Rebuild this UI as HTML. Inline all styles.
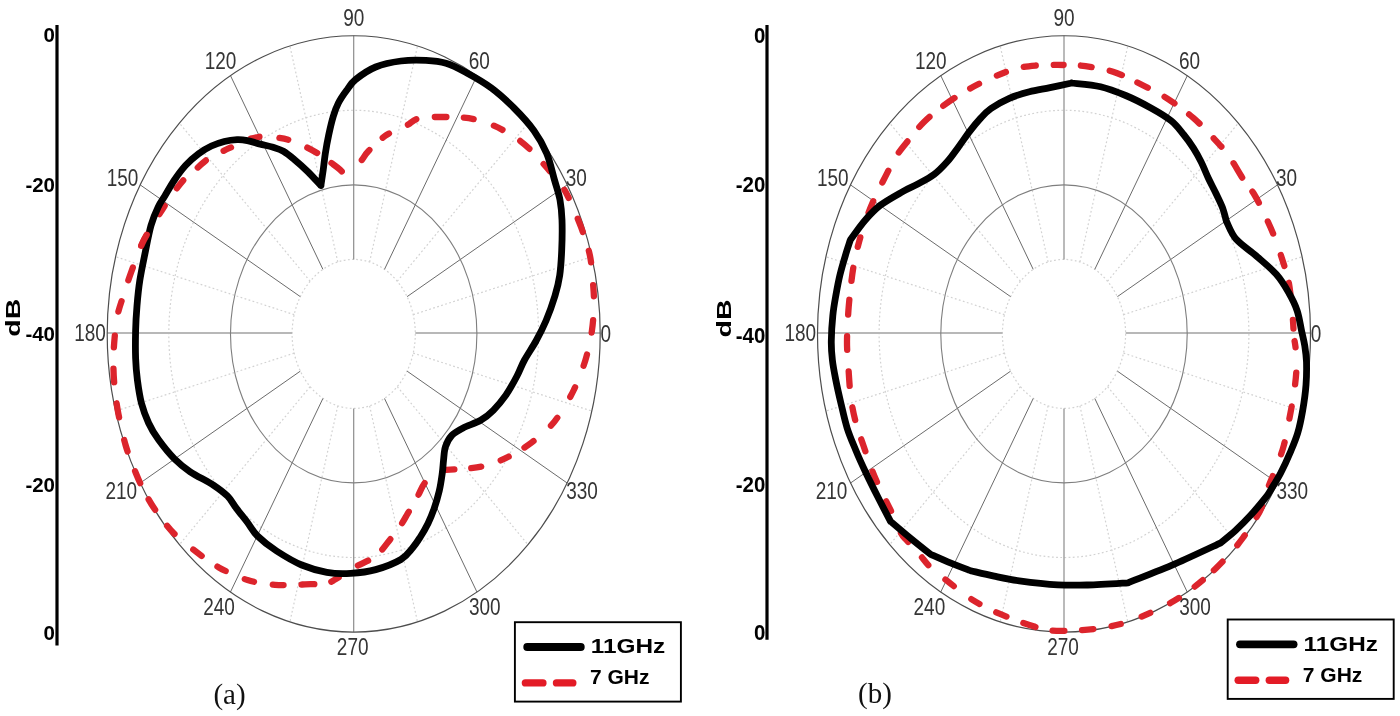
<!DOCTYPE html>
<html lang="en">
<head>
<meta charset="utf-8">
<title>Radiation patterns at 11 GHz and 7 GHz</title>
<style>
html,body{margin:0;padding:0;background:#fff;}
body{width:1400px;height:716px;overflow:hidden;}
svg{display:block;}
text{font-family:"Liberation Sans",sans-serif;}
.grid *{fill:none;vector-effect:non-scaling-stroke;}
.dot{stroke:#d2d2d2;stroke-width:1.2;stroke-dasharray:1.8 2.4;}
.spoke{stroke:#6b6b6b;stroke-width:1;}
.axis{stroke:#b8b8b8;stroke-width:1.9;}
.vaxis{stroke:#8c8c8c;stroke-width:1.2;}
.mid{stroke:#7e7e7e;stroke-width:1.1;}
.rim{stroke:#4d4d4d;stroke-width:1.2;}
.lab text{font-size:19px;fill:#353535;text-anchor:middle;}
.blk{fill:none;stroke:#000;stroke-width:6.8;stroke-linejoin:miter;stroke-linecap:round;}
.red{fill:none;stroke:#dc242c;stroke-width:6.3;stroke-linecap:round;}
.tick{font-size:20.5px;font-weight:bold;fill:#000;text-anchor:end;}
.leg{font-size:21px;font-weight:bold;fill:#000;}
.cap{font-family:"Liberation Serif",serif;font-size:29px;fill:#111;text-anchor:middle;}
.db{font-size:21px;font-weight:bold;fill:#000;}
</style>
</head>
<body>
<svg width="1400" height="716" viewBox="0 0 1400 716">
<rect width="1400" height="716" fill="#fff"/>
<g transform="translate(353.7 333.9) scale(1 1.2095)">
<g class="grid">
<circle r="61.6" class="dot"/>
<circle r="184.9" class="dot"/>
<line x1="59.5" y1="-15.9" x2="238.1" y2="-63.8" class="dot"/>
<line x1="43.6" y1="-43.6" x2="174.3" y2="-174.3" class="dot"/>
<line x1="15.9" y1="-59.5" x2="63.8" y2="-238.1" class="dot"/>
<line x1="-15.9" y1="-59.5" x2="-63.8" y2="-238.1" class="dot"/>
<line x1="-43.6" y1="-43.6" x2="-174.3" y2="-174.3" class="dot"/>
<line x1="-59.5" y1="-15.9" x2="-238.1" y2="-63.8" class="dot"/>
<line x1="-59.5" y1="15.9" x2="-238.1" y2="63.8" class="dot"/>
<line x1="-43.6" y1="43.6" x2="-174.3" y2="174.3" class="dot"/>
<line x1="-15.9" y1="59.5" x2="-63.8" y2="238.1" class="dot"/>
<line x1="15.9" y1="59.5" x2="63.8" y2="238.1" class="dot"/>
<line x1="43.6" y1="43.6" x2="174.3" y2="174.3" class="dot"/>
<line x1="59.5" y1="15.9" x2="238.1" y2="63.8" class="dot"/>
<line x1="61.6" y1="-0.8" x2="246.5" y2="-0.8" class="axis"/>
<line x1="53.4" y1="-30.8" x2="213.5" y2="-123.2" class="spoke"/>
<line x1="30.8" y1="-53.4" x2="123.3" y2="-213.5" class="spoke"/>
<line x1="0.0" y1="-61.6" x2="0.0" y2="-246.5" class="vaxis"/>
<line x1="-30.8" y1="-53.4" x2="-123.2" y2="-213.5" class="spoke"/>
<line x1="-53.4" y1="-30.8" x2="-213.5" y2="-123.2" class="spoke"/>
<line x1="-61.6" y1="-0.8" x2="-246.5" y2="-0.8" class="axis"/>
<line x1="-53.4" y1="30.8" x2="-213.5" y2="123.3" class="spoke"/>
<line x1="-30.8" y1="53.4" x2="-123.3" y2="213.5" class="spoke"/>
<line x1="-0.0" y1="61.6" x2="-0.0" y2="246.5" class="vaxis"/>
<line x1="30.8" y1="53.4" x2="123.3" y2="213.5" class="spoke"/>
<line x1="53.4" y1="30.8" x2="213.5" y2="123.3" class="spoke"/>
<circle r="123.2" class="mid"/>
<circle r="246.5" class="rim"/>
</g>
</g>
<g class="lab">
<text transform="translate(353.7 26.0) scale(1 1.29)">90</text>
<text transform="translate(479.2 68.8) scale(1 1.29)">60</text>
<text transform="translate(576.3 186.3) scale(1 1.29)">30</text>
<text transform="translate(605.8 341.8) scale(1 1.29)">0</text>
<text transform="translate(582.0 499.1) scale(1 1.29)">330</text>
<text transform="translate(484.8 614.8) scale(1 1.29)">300</text>
<text transform="translate(352.7 655.1) scale(1 1.29)">270</text>
<text transform="translate(219.1 615.2) scale(1 1.29)">240</text>
<text transform="translate(121.3 499.2) scale(1 1.29)">210</text>
<text transform="translate(90.0 341.4) scale(1 1.29)">180</text>
<text transform="translate(122.5 186.3) scale(1 1.29)">150</text>
<text transform="translate(220.5 68.8) scale(1 1.29)">120</text>
</g>
<path class="red" stroke-dasharray="12.8 17.9 7.8 20.7 10.3 18.7 11.7 17.1 10.0 21.3 9.6 20.7 12.3 20.7 9.7 23.6 9.3 22.6 14.3 19.5 12.0 22.6 11.3 23.9 12.6 22.2 12.0 23.1 10.8 24.5 10.1 23.2 11.2 18.2 8.8 20.4 10.3 16.8 8.1 9999" stroke-dashoffset="-22.7" d="M346.0 176.5C348.4 174.0 356.9 165.8 360.6 161.5C364.4 157.2 364.3 155.3 368.5 151.0C372.7 146.7 379.6 139.6 385.8 135.4C392.0 131.2 400.4 128.7 405.9 125.9C411.3 123.1 412.6 120.0 418.5 118.5C424.4 117.0 432.6 117.0 441.0 117.0C449.4 117.0 460.0 116.8 468.8 118.2C477.6 119.7 485.9 122.3 493.9 125.7C501.8 129.1 510.2 134.1 516.5 138.3C522.8 142.5 527.0 146.5 531.6 150.9C536.2 155.3 540.6 160.7 544.2 164.7C547.8 168.7 549.8 171.0 553.0 175.0C556.2 179.0 560.6 183.5 563.7 188.5C566.8 193.5 568.9 198.4 571.8 205.0C574.7 211.6 578.3 219.4 581.3 227.8C584.3 236.2 587.9 245.8 589.9 255.4C591.9 265.0 592.5 277.2 593.2 285.6C593.9 294.0 594.1 298.1 593.9 305.7C593.7 313.2 593.1 322.5 591.9 330.9C590.7 339.3 588.4 349.1 586.6 356.0C584.8 362.9 583.4 366.3 581.3 372.0C579.2 377.7 576.7 384.0 573.8 390.0C570.9 396.0 567.5 401.9 563.7 407.8C559.9 413.7 556.7 419.5 551.2 425.4C545.8 431.3 538.1 437.8 531.0 443.0C523.9 448.2 515.9 453.0 508.4 456.8C500.9 460.6 492.9 463.6 485.8 465.6C478.7 467.6 472.8 467.9 465.7 468.6C458.6 469.3 447.2 469.7 443.5 469.9"/>
<path class="red" stroke-dasharray="13.2 19.4 13.6 19.8 13.0 18.2 11.3 22.5 8.5 17.6 12.7 17.9 10.7 19.3 9.5 20.6 9.4 18.9 10.7 24.4 11.2 19.7 12.4 18.2 13.3 21.0 12.1 22.7 14.4 21.2 13.9 21.2 11.7 24.2 11.3 21.8 13.6 23.2 12.3 24.0 9.8 21.6 10.0 19.5 10.8 20.2 8.1 21.8 8.7 20.2 9.0 20.6 11.1 17.6 13.3 9999" stroke-dashoffset="-23.1" d="M443.5 469.9C440.6 471.8 430.7 476.7 426.4 481.0C422.1 485.3 421.0 490.4 417.9 495.8C414.8 501.2 410.7 508.4 407.8 513.4C404.9 518.4 403.2 521.7 400.3 526.0C397.4 530.3 394.6 534.0 390.5 539.0C386.4 544.0 381.8 551.2 376.0 555.8C370.2 560.4 362.4 562.8 355.6 566.8C348.8 570.8 339.9 576.8 335.0 579.6C330.1 582.4 330.1 582.6 326.0 583.4C321.9 584.2 319.0 584.0 310.5 584.2C302.0 584.4 285.5 585.5 275.0 584.8C264.5 584.1 256.9 582.9 247.5 580.0C238.1 577.1 227.8 572.4 218.8 567.4C209.8 562.4 201.2 555.5 193.6 549.8C186.0 544.1 179.8 539.5 173.5 533.0C167.2 526.5 160.7 517.7 155.9 510.9C151.1 504.1 147.9 498.3 144.6 492.0C141.2 485.7 139.0 480.8 135.8 473.0C132.7 465.2 128.6 455.5 125.7 445.5C122.8 435.5 120.1 422.9 118.2 412.8C116.3 402.7 115.2 393.5 114.4 385.0C113.6 376.5 113.4 369.8 113.4 362.0C113.4 354.2 113.9 345.8 114.6 338.0C115.3 330.2 116.1 322.1 117.6 315.0C119.1 307.9 121.1 302.8 123.4 295.5C125.7 288.2 128.3 280.1 131.4 271.5C134.5 262.9 138.7 251.4 142.0 244.0C145.3 236.6 148.0 232.9 151.5 227.0C155.0 221.1 159.5 214.0 163.0 208.5C166.5 203.0 168.9 199.0 172.6 194.0C176.2 189.0 180.8 182.9 184.9 178.6C189.0 174.2 193.3 171.3 197.3 167.9C201.3 164.5 204.6 161.0 208.9 158.2C213.2 155.4 218.5 153.3 223.0 151.1C227.5 148.9 231.6 147.2 235.9 145.2C240.2 143.2 244.5 140.7 249.0 139.2C253.5 137.7 258.4 136.7 262.9 136.4C267.3 136.1 271.2 136.8 275.7 137.4C280.2 138.0 285.0 138.7 289.9 140.2C294.8 141.7 300.4 144.2 305.3 146.6C310.2 149.0 315.1 151.7 319.4 154.4C323.7 157.1 327.6 160.2 331.0 162.7C334.4 165.2 337.5 167.3 340.0 169.6C342.5 171.9 345.0 175.3 346.0 176.5"/>
<path class="blk" d="M320.9 185.5C321.3 182.9 322.4 175.4 323.2 170.0C323.9 164.6 324.5 158.9 325.4 153.0C326.3 147.1 327.5 140.6 328.8 134.5C330.1 128.4 331.7 121.5 333.3 116.2C334.9 111.0 336.2 107.3 338.4 103.0C340.6 98.7 343.6 94.4 346.5 90.5C349.4 86.6 350.7 83.4 355.6 79.5C360.5 75.6 368.1 70.1 375.7 67.0C383.3 63.9 392.6 62.1 401.0 61.0C409.4 59.9 418.5 60.0 426.0 60.4C433.5 60.8 439.3 61.3 446.0 63.3C452.7 65.3 458.4 68.4 466.0 72.5C473.6 76.6 483.4 82.1 491.4 88.0C499.4 93.9 506.9 100.9 514.0 108.0C521.1 115.1 528.5 123.1 534.0 130.7C539.5 138.3 543.3 145.2 546.7 153.4C550.1 161.6 552.3 172.2 554.5 180.0C556.7 187.8 558.8 193.3 560.0 200.0C561.2 206.7 561.7 211.6 562.0 220.0C562.3 228.4 562.1 241.2 561.7 250.4C561.3 259.6 560.8 267.9 559.7 275.5C558.6 283.1 557.3 288.1 555.0 295.7C552.7 303.2 549.2 313.2 546.0 320.8C542.8 328.4 539.6 334.5 536.0 341.0C532.4 347.5 527.7 354.2 524.5 360.0C521.3 365.8 520.1 370.1 517.0 376.0C513.9 381.9 509.8 389.5 505.9 395.2C501.9 400.9 497.5 406.1 493.3 410.3C489.1 414.5 485.7 417.4 480.7 420.3C475.7 423.2 467.9 425.4 463.1 427.9C458.3 430.4 454.7 432.3 451.8 435.4C448.9 438.5 446.9 442.5 445.5 446.7C444.1 450.9 444.0 456.2 443.5 460.6C443.0 465.0 443.0 468.0 442.3 473.0C441.6 478.0 440.7 484.9 439.3 490.8C437.9 496.7 436.1 503.0 434.2 508.4C432.3 513.8 430.4 518.5 428.0 523.4C425.6 528.2 422.6 533.4 420.0 537.5C417.4 541.6 415.7 544.3 412.5 548.0C409.3 551.7 407.0 555.9 400.9 559.5C394.8 563.1 384.1 567.3 375.7 569.6C367.3 571.9 358.7 572.8 350.6 573.3C342.5 573.8 335.0 573.7 326.9 572.3C318.8 570.9 310.1 568.5 301.7 565.0C293.3 561.5 284.0 555.8 276.6 551.0C269.2 546.2 262.4 540.8 257.5 536.0C252.7 531.2 251.0 527.1 247.5 522.5C244.0 517.9 239.7 512.8 236.4 508.4C233.1 504.0 231.4 500.0 227.6 496.2C223.8 492.4 219.9 489.4 213.7 485.3C207.5 481.2 196.8 476.2 190.2 471.8C183.6 467.4 179.5 463.9 174.2 458.6C168.9 453.3 162.9 445.7 158.6 439.8C154.3 433.9 151.4 429.1 148.6 423.0C145.8 416.9 143.4 410.6 141.5 403.4C139.6 396.2 138.4 387.6 137.4 380.0C136.4 372.4 135.9 366.2 135.6 358.0C135.3 349.8 135.4 339.6 135.6 330.9C135.8 322.2 136.3 314.1 137.0 305.7C137.7 297.3 138.5 289.0 139.8 280.6C141.1 272.2 142.7 264.6 144.6 255.4C146.5 246.2 148.7 233.6 151.0 225.5C153.3 217.4 155.9 211.8 158.2 207.0C160.4 202.2 161.8 200.9 164.5 196.5C167.2 192.1 170.6 185.7 174.1 180.5C177.6 175.3 181.6 169.8 185.7 165.3C189.8 160.8 194.3 156.9 198.6 153.7C202.9 150.5 207.1 148.0 211.4 146.0C215.7 144.0 220.0 142.6 224.3 141.5C228.6 140.4 233.2 139.8 237.1 139.6C240.9 139.4 243.5 139.8 247.4 140.6C251.3 141.3 256.0 143.0 260.3 144.1C264.6 145.2 269.2 146.1 273.1 147.3C277.0 148.5 279.8 149.2 283.4 151.3C287.0 153.4 290.9 156.7 295.0 160.1C299.1 163.5 303.6 167.5 307.9 171.7C312.2 175.9 318.7 183.2 320.9 185.5"/>
<path class="red" stroke-dasharray="12.3 9999" stroke-dashoffset="-641.3" d="M443.5 469.9C440.6 471.8 430.7 476.7 426.4 481.0C422.1 485.3 421.0 490.4 417.9 495.8C414.8 501.2 410.7 508.4 407.8 513.4C404.9 518.4 403.2 521.7 400.3 526.0C397.4 530.3 394.6 534.0 390.5 539.0C386.4 544.0 381.8 551.2 376.0 555.8C370.2 560.4 362.4 562.8 355.6 566.8C348.8 570.8 339.9 576.8 335.0 579.6C330.1 582.4 330.1 582.6 326.0 583.4C321.9 584.2 319.0 584.0 310.5 584.2C302.0 584.4 285.5 585.5 275.0 584.8C264.5 584.1 256.9 582.9 247.5 580.0C238.1 577.1 227.8 572.4 218.8 567.4C209.8 562.4 201.2 555.5 193.6 549.8C186.0 544.1 179.8 539.5 173.5 533.0C167.2 526.5 160.7 517.7 155.9 510.9C151.1 504.1 147.9 498.3 144.6 492.0C141.2 485.7 139.0 480.8 135.8 473.0C132.7 465.2 128.6 455.5 125.7 445.5C122.8 435.5 120.1 422.9 118.2 412.8C116.3 402.7 115.2 393.5 114.4 385.0C113.6 376.5 113.4 369.8 113.4 362.0C113.4 354.2 113.9 345.8 114.6 338.0C115.3 330.2 116.1 322.1 117.6 315.0C119.1 307.9 121.1 302.8 123.4 295.5C125.7 288.2 128.3 280.1 131.4 271.5C134.5 262.9 138.7 251.4 142.0 244.0C145.3 236.6 148.0 232.9 151.5 227.0C155.0 221.1 159.5 214.0 163.0 208.5C166.5 203.0 168.9 199.0 172.6 194.0C176.2 189.0 180.8 182.9 184.9 178.6C189.0 174.2 193.3 171.3 197.3 167.9C201.3 164.5 204.6 161.0 208.9 158.2C213.2 155.4 218.5 153.3 223.0 151.1C227.5 148.9 231.6 147.2 235.9 145.2C240.2 143.2 244.5 140.7 249.0 139.2C253.5 137.7 258.4 136.7 262.9 136.4C267.3 136.1 271.2 136.8 275.7 137.4C280.2 138.0 285.0 138.7 289.9 140.2C294.8 141.7 300.4 144.2 305.3 146.6C310.2 149.0 315.1 151.7 319.4 154.4C323.7 157.1 327.6 160.2 331.0 162.7C334.4 165.2 337.5 167.3 340.0 169.6C342.5 171.9 345.0 175.3 346.0 176.5"/>
<g transform="translate(1064.0 333.9) scale(1 1.2095)">
<g class="grid">
<circle r="61.6" class="dot"/>
<circle r="184.9" class="dot"/>
<line x1="59.5" y1="-15.9" x2="238.1" y2="-63.8" class="dot"/>
<line x1="43.6" y1="-43.6" x2="174.3" y2="-174.3" class="dot"/>
<line x1="15.9" y1="-59.5" x2="63.8" y2="-238.1" class="dot"/>
<line x1="-15.9" y1="-59.5" x2="-63.8" y2="-238.1" class="dot"/>
<line x1="-43.6" y1="-43.6" x2="-174.3" y2="-174.3" class="dot"/>
<line x1="-59.5" y1="-15.9" x2="-238.1" y2="-63.8" class="dot"/>
<line x1="-59.5" y1="15.9" x2="-238.1" y2="63.8" class="dot"/>
<line x1="-43.6" y1="43.6" x2="-174.3" y2="174.3" class="dot"/>
<line x1="-15.9" y1="59.5" x2="-63.8" y2="238.1" class="dot"/>
<line x1="15.9" y1="59.5" x2="63.8" y2="238.1" class="dot"/>
<line x1="43.6" y1="43.6" x2="174.3" y2="174.3" class="dot"/>
<line x1="59.5" y1="15.9" x2="238.1" y2="63.8" class="dot"/>
<line x1="61.6" y1="-0.8" x2="246.5" y2="-0.8" class="axis"/>
<line x1="53.4" y1="-30.8" x2="213.5" y2="-123.2" class="spoke"/>
<line x1="30.8" y1="-53.4" x2="123.3" y2="-213.5" class="spoke"/>
<line x1="0.0" y1="-61.6" x2="0.0" y2="-246.5" class="vaxis"/>
<line x1="-30.8" y1="-53.4" x2="-123.2" y2="-213.5" class="spoke"/>
<line x1="-53.4" y1="-30.8" x2="-213.5" y2="-123.2" class="spoke"/>
<line x1="-61.6" y1="-0.8" x2="-246.5" y2="-0.8" class="axis"/>
<line x1="-53.4" y1="30.8" x2="-213.5" y2="123.3" class="spoke"/>
<line x1="-30.8" y1="53.4" x2="-123.3" y2="213.5" class="spoke"/>
<line x1="-0.0" y1="61.6" x2="-0.0" y2="246.5" class="vaxis"/>
<line x1="30.8" y1="53.4" x2="123.3" y2="213.5" class="spoke"/>
<line x1="53.4" y1="30.8" x2="213.5" y2="123.3" class="spoke"/>
<circle r="123.2" class="mid"/>
<circle r="246.5" class="rim"/>
</g>
</g>
<g class="lab">
<text transform="translate(1064.0 26.0) scale(1 1.29)">90</text>
<text transform="translate(1189.5 68.8) scale(1 1.29)">60</text>
<text transform="translate(1286.6 186.3) scale(1 1.29)">30</text>
<text transform="translate(1316.1 341.8) scale(1 1.29)">0</text>
<text transform="translate(1292.3 499.1) scale(1 1.29)">330</text>
<text transform="translate(1195.1 614.8) scale(1 1.29)">300</text>
<text transform="translate(1063.0 655.1) scale(1 1.29)">270</text>
<text transform="translate(929.4 615.2) scale(1 1.29)">240</text>
<text transform="translate(831.6 499.2) scale(1 1.29)">210</text>
<text transform="translate(800.3 341.4) scale(1 1.29)">180</text>
<text transform="translate(832.8 186.3) scale(1 1.29)">150</text>
<text transform="translate(930.8 68.8) scale(1 1.29)">120</text>
</g>
<path class="red" stroke-dasharray="10.9 18.3 13.1 17.1 11.7 19.0 11.9 18.2 14.0 20.4 11.4 20.6 16.6 17.5 12.9 20.8 13.2 22.5 11.5 17.7 11.1 26.0 8.8 12.4 6.8 25.2 11.8 22.5 12.2 23.9 12.6 23.3 10.2 21.9 12.2 21.8 12.3 22.2 12.0 14.9 10.3 19.6 10.3 22.1 9.4 22.1 9.4 18.5 11.3 17.7 11.7 17.7 12.7 18.1 11.1 18.7 9.5 21.7 10.7 22.3 10.1 20.4 12.1 23.9 10.6 21.7 11.5 21.1 12.7 20.4 13.2 21.4 14.4 21.7 13.7 21.6 14.9 19.0 13.3 21.2 9.9 26.2 12.2 21.1 13.1 20.7 14.4 18.6 14.4 17.6 13.7 18.4 10.0 19.6 9.6 18.5 12.3 17.7 10.0 9999" stroke-dashoffset="-8.9" d="M1072.0 65.3C1074.2 65.4 1078.7 65.0 1085.5 66.1C1092.3 67.2 1103.8 68.7 1113.0 71.7C1122.2 74.7 1131.5 79.6 1140.8 84.2C1150.0 88.8 1159.7 93.6 1168.5 99.3C1177.3 105.0 1186.1 111.7 1193.6 118.2C1201.1 124.7 1207.8 132.0 1213.7 138.3C1219.6 144.6 1223.8 149.1 1228.8 156.0C1233.8 162.9 1239.3 173.3 1243.5 179.6C1247.7 185.8 1250.3 188.0 1253.7 193.5C1257.1 199.0 1260.4 205.7 1263.7 212.7C1267.0 219.7 1270.7 227.3 1273.8 235.3C1276.9 243.3 1280.1 252.6 1282.6 260.5C1285.1 268.4 1287.2 273.8 1288.9 283.0C1290.6 292.2 1291.8 307.0 1292.6 315.8C1293.4 324.6 1293.4 330.0 1293.9 335.9C1294.5 341.8 1295.5 345.3 1295.9 351.0C1296.3 356.7 1296.7 363.1 1296.4 370.0C1296.1 376.9 1295.1 385.1 1294.0 392.7C1292.9 400.2 1291.7 406.5 1290.0 415.3C1288.3 424.1 1286.3 436.3 1283.8 445.5C1281.3 454.7 1277.5 463.9 1275.0 470.6C1272.5 477.3 1271.1 479.4 1268.8 485.7C1266.5 492.0 1263.9 502.1 1261.2 508.4C1258.5 514.7 1255.5 518.5 1252.4 523.4C1249.3 528.3 1246.4 533.1 1242.8 538.0C1239.2 542.9 1235.5 547.6 1231.0 552.6C1226.5 557.6 1221.0 563.4 1216.0 568.2C1211.0 573.0 1205.9 577.4 1200.9 581.6C1195.9 585.8 1190.8 589.8 1185.8 593.3C1180.8 596.8 1176.6 599.6 1170.7 602.8C1164.8 606.0 1158.1 609.4 1150.6 612.7C1143.0 616.0 1133.8 620.1 1125.4 622.7C1117.0 625.3 1108.4 626.9 1100.0 628.2C1091.6 629.5 1083.3 630.1 1075.0 630.5C1066.7 630.9 1057.6 631.3 1050.0 630.4C1042.4 629.5 1036.2 627.1 1029.4 625.0C1022.6 622.9 1016.0 620.4 1009.3 617.7C1002.6 615.0 995.9 612.4 989.2 609.0C982.5 605.6 975.6 602.0 969.0 597.6C962.4 593.2 955.8 587.6 949.5 582.7C943.2 577.8 936.4 573.1 931.3 568.2C926.2 563.4 922.9 558.2 918.8 553.6C914.7 549.0 909.8 543.9 906.9 540.5C904.0 537.1 903.9 538.4 901.2 533.5C898.6 528.6 894.4 518.0 891.0 510.9C887.6 503.8 884.1 497.4 881.0 490.7C877.9 484.0 875.1 478.1 872.2 470.6C869.3 463.1 866.1 453.4 863.4 445.5C860.7 437.6 858.0 430.9 855.9 422.9C853.8 414.9 852.1 406.9 850.9 397.7C849.6 388.5 849.0 375.8 848.4 367.5C847.8 359.2 847.3 353.3 847.1 348.0C846.9 342.7 846.9 342.1 847.1 335.9C847.3 329.7 847.8 319.2 848.4 310.8C849.0 302.4 849.9 294.0 850.9 285.6C851.9 277.2 852.9 268.9 854.6 260.5C856.3 252.1 858.6 243.3 860.9 235.3C863.2 227.3 866.0 219.4 868.5 212.7C871.0 206.0 873.5 200.4 876.0 195.0C878.5 189.6 880.2 186.5 883.6 180.0C887.0 173.5 892.0 163.0 896.3 156.2C900.6 149.4 904.6 145.0 909.2 139.3C913.8 133.6 918.4 127.5 924.0 122.0C929.6 116.5 935.9 111.2 943.0 106.0C950.1 100.8 958.4 95.2 966.5 90.5C974.6 85.8 983.3 81.5 991.7 77.8C1000.1 74.1 1009.2 70.6 1016.8 68.5C1024.3 66.4 1030.2 66.0 1037.0 65.4C1043.8 64.8 1052.0 64.9 1057.8 64.9C1063.6 64.9 1069.6 65.2 1072.0 65.3"/>
<path class="blk" d="M1071.7 83.0C1076.5 83.6 1091.6 84.6 1100.6 86.7C1109.6 88.8 1117.3 92.0 1125.7 95.5C1134.1 99.0 1143.4 103.8 1150.9 108.0C1158.5 112.2 1165.5 116.3 1171.0 120.7C1176.5 125.1 1179.8 129.9 1183.6 134.5C1187.4 139.1 1190.7 143.8 1193.6 148.4C1196.5 153.0 1198.7 157.0 1201.2 162.0C1203.7 167.0 1206.0 173.2 1208.5 178.5C1211.0 183.8 1213.7 188.6 1216.0 193.5C1218.3 198.4 1220.8 203.0 1222.5 207.7C1224.2 212.4 1225.8 219.2 1226.5 221.5 M1226.5 221.5C1228.1 224.4 1231.0 233.3 1236.0 239.0C1241.0 244.7 1249.5 250.0 1256.2 255.9C1262.9 261.8 1270.8 268.1 1276.3 274.3C1281.8 280.5 1285.4 286.9 1288.9 293.0C1292.4 299.1 1295.1 304.5 1297.2 310.8C1299.3 317.1 1300.3 325.0 1301.6 330.9C1302.9 336.8 1304.0 340.8 1304.8 346.0C1305.6 351.2 1306.3 355.5 1306.5 362.0C1306.7 368.5 1306.6 376.9 1306.0 385.0C1305.4 393.1 1304.1 402.3 1302.7 410.3C1301.3 418.3 1299.8 425.9 1297.7 433.0C1295.6 440.1 1292.8 446.3 1290.0 453.0C1287.2 459.7 1283.8 467.0 1280.7 473.0C1277.6 479.0 1273.8 484.9 1271.3 489.0C1268.8 493.1 1269.0 493.3 1265.6 497.7C1262.1 502.1 1255.6 509.8 1250.6 515.3C1245.6 520.8 1240.5 525.8 1235.5 530.4C1230.5 535.0 1223.2 540.7 1220.8 542.8 M1220.8 542.8C1213.2 546.3 1190.5 557.1 1175.0 563.8C1159.5 570.5 1135.8 579.6 1128.0 582.8 M1128.0 582.8C1121.3 583.2 1099.4 584.7 1087.7 585.0C1076.0 585.3 1069.2 585.5 1057.8 584.8C1046.4 584.1 1029.9 582.2 1019.3 580.8C1008.7 579.4 1002.3 577.9 994.2 576.2C986.1 574.5 974.8 571.7 970.9 570.8 M970.9 570.8C967.6 569.5 957.7 565.9 951.0 563.2C944.3 560.5 934.1 555.9 930.7 554.4 M930.7 554.4C927.4 551.8 917.7 544.1 911.0 538.6C904.3 533.1 893.9 524.2 890.5 521.3 M890.5 521.3C888.5 517.5 882.6 506.4 878.5 498.3C874.4 490.2 869.8 481.0 866.0 473.0C862.2 465.0 859.0 458.0 855.9 450.5C852.8 443.0 849.6 435.9 847.1 427.9C844.6 419.9 842.7 410.7 840.8 402.7C838.9 394.7 837.2 387.1 835.8 380.0C834.4 372.9 833.1 366.5 832.4 360.0C831.6 353.5 831.2 348.4 831.3 341.0C831.4 333.6 832.0 323.4 832.8 315.8C833.5 308.2 834.6 302.4 835.8 295.7C837.0 289.0 838.2 282.2 839.8 275.5C841.4 268.8 843.6 261.3 845.4 255.4C847.1 249.5 849.5 242.6 850.3 240.0 M850.3 240.0C852.7 236.8 859.7 226.5 864.7 220.7C869.7 214.9 874.0 210.2 880.3 205.3C886.6 200.5 896.4 195.2 902.7 191.6C909.0 188.0 913.1 186.7 918.3 183.8C923.5 181.0 929.1 178.2 934.0 174.5C938.9 170.8 943.3 166.1 947.4 161.5C951.5 156.9 954.8 151.9 958.5 146.9C962.2 141.9 966.0 136.1 969.7 131.3C973.4 126.5 977.4 121.7 980.9 117.9C984.4 114.1 986.3 111.8 991.0 108.5C995.7 105.2 1002.9 101.1 1009.3 98.3C1015.7 95.5 1022.6 93.6 1029.4 91.8C1036.2 90.0 1043.0 89.1 1050.0 87.6C1057.0 86.1 1068.1 83.8 1071.7 83.0"/>
<line x1="57" y1="25" x2="57" y2="645.4" stroke="#000" stroke-width="3.2"/>
<text class="tick" transform="translate(55 42.2) scale(1 1.03)">0</text>
<text class="tick" transform="translate(55 191.8) scale(1 1.03)">-20</text>
<text class="tick" transform="translate(55 341.3) scale(1 1.03)">-40</text>
<text class="tick" transform="translate(55 492) scale(1 1.03)">-20</text>
<text class="tick" transform="translate(55 640.3) scale(1 1.03)">0</text>
<line x1="767.0" y1="25" x2="767.0" y2="639.8" stroke="#000" stroke-width="3.2"/>
<text class="tick" transform="translate(765.4 43) scale(1 1.09)">0</text>
<text class="tick" transform="translate(765.4 191.6) scale(1 1.09)">-20</text>
<text class="tick" transform="translate(765.4 343.2) scale(1 1.09)">-40</text>
<text class="tick" transform="translate(765.4 492) scale(1 1.09)">-20</text>
<text class="tick" transform="translate(765.4 640.3) scale(1 1.09)">0</text>
<text class="db" transform="translate(20 336.8) rotate(-90) scale(1.36 1)">dB</text>
<text class="db" transform="translate(730.5 337.5) rotate(-90) scale(1.36 1)">dB</text>
<g transform="translate(514.6 621.9)">
<rect x="0.3" y="0.3" width="166" height="79.4" fill="#fff" stroke="#000" stroke-width="1.9"/>
<line x1="12.6" y1="25.1" x2="66.2" y2="25.1" stroke="#000" stroke-width="7.8" stroke-linecap="round"/>
<line x1="10.8" y1="61" x2="28.3" y2="61" stroke="#e31b26" stroke-width="7.4" stroke-linecap="round"/>
<line x1="41.9" y1="61" x2="58.2" y2="61" stroke="#e31b26" stroke-width="7.4" stroke-linecap="round"/>
<text class="leg" transform="translate(76.2 31.5) scale(1.16 1)">11GHz</text>
<text class="leg" x="75.4" y="62.6">7 GHz</text>
</g>
<g transform="translate(1227.4 619.2)">
<rect x="0.3" y="0.3" width="166" height="79.4" fill="#fff" stroke="#000" stroke-width="1.9"/>
<line x1="12.6" y1="25.1" x2="66.2" y2="25.1" stroke="#000" stroke-width="7.8" stroke-linecap="round"/>
<line x1="10.8" y1="61" x2="28.3" y2="61" stroke="#e31b26" stroke-width="7.4" stroke-linecap="round"/>
<line x1="41.9" y1="61" x2="58.2" y2="61" stroke="#e31b26" stroke-width="7.4" stroke-linecap="round"/>
<text class="leg" transform="translate(76.2 31.5) scale(1.16 1)">11GHz</text>
<text class="leg" x="75.4" y="62.6">7 GHz</text>
</g>
<text class="cap" x="229.5" y="703.6">(a)</text>
<text class="cap" x="875" y="703">(b)</text>
</svg>
</body>
</html>
